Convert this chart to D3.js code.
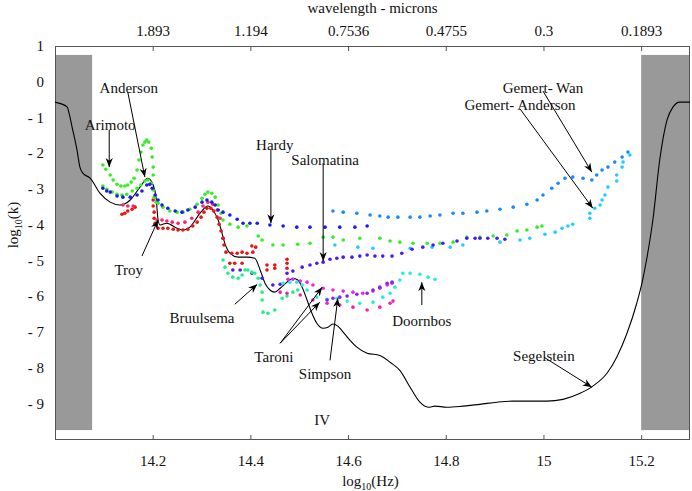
<!DOCTYPE html>
<html><head><meta charset="utf-8">
<script src="https://cdn.jsdelivr.net/npm/d3@7"></script>
<style>
html,body{margin:0;padding:0;background:#fff;}
svg text{font-family:"Liberation Serif","Times New Roman","DejaVu Serif",serif !important;fill:#111;}
</style></head>
<body><svg id="c" width="692" height="491" font-family="Liberation Serif"></svg>
<script>
// ---- axis tick values ----
const xTicks = [14.2, 14.4, 14.6, 14.8, 15, 15.2];
const waveLabels = ["1.893", "1.194", "0.7536", "0.4755", "0.3", "0.1893"];
const yTicks = [1, 0, -1, -2, -3, -4, -5, -6, -7, -8, -9];
const grayBands = [[14.0, 14.076], [15.2, 15.3]];
const grayRange = [-9.75, 0.75];

// ---- Segelstein (black line) ----
const segelstein = [[14.000,-0.57],[14.013,-0.62],[14.025,-0.71],[14.030,-0.95],[14.035,-1.27],[14.045,-1.91],[14.051,-2.39],[14.057,-2.56],[14.072,-2.70],[14.092,-3.12],[14.113,-3.37],[14.133,-3.45],[14.154,-3.31],[14.174,-2.95],[14.190,-2.70],[14.201,-2.89],[14.207,-3.25],[14.211,-3.87],[14.215,-4.01],[14.229,-3.96],[14.250,-4.10],[14.262,-4.15],[14.276,-4.07],[14.297,-3.68],[14.313,-3.48],[14.323,-3.59],[14.334,-3.87],[14.342,-4.24],[14.346,-4.45],[14.358,-4.80],[14.375,-4.91],[14.393,-4.91],[14.409,-4.94],[14.420,-5.27],[14.430,-5.64],[14.440,-5.83],[14.450,-5.89],[14.461,-5.78],[14.475,-5.61],[14.487,-5.50],[14.497,-5.55],[14.506,-5.75],[14.516,-6.11],[14.526,-6.48],[14.536,-6.76],[14.549,-6.90],[14.559,-6.87],[14.569,-6.78],[14.579,-6.84],[14.590,-7.01],[14.604,-7.24],[14.618,-7.43],[14.639,-7.60],[14.665,-7.66],[14.686,-7.85],[14.706,-8.08],[14.727,-8.55],[14.747,-8.97],[14.764,-9.11],[14.778,-9.08],[14.802,-9.11],[14.835,-9.08],[14.870,-9.03],[14.905,-8.97],[14.938,-8.94],[14.972,-8.94],[15.007,-8.94],[15.040,-8.89],[15.075,-8.72],[15.101,-8.52],[15.130,-8.16],[15.150,-7.71],[15.171,-7.04],[15.191,-6.20],[15.203,-5.55],[15.211,-4.99],[15.224,-3.87],[15.238,-2.19],[15.253,-1.07],[15.265,-0.71],[15.279,-0.57],[15.300,-0.57]];

// ---- scatter series ----
const arimoto = [[14.098,-2.33],[14.104,-2.45],[14.113,-2.61],[14.119,-2.75],[14.127,-2.87],[14.135,-2.92],[14.143,-2.92],[14.149,-2.89],[14.156,-2.81],[14.162,-2.70],[14.168,-2.47],[14.172,-2.19],[14.176,-1.97],[14.180,-1.77],[14.184,-1.69],[14.188,-1.63],[14.192,-1.69],[14.197,-1.86],[14.199,-2.11],[14.201,-2.39],[14.201,-2.61]];
const andersonGreen = [[14.098,-2.92],[14.106,-3.01],[14.117,-3.09],[14.127,-3.15],[14.137,-3.17],[14.147,-3.15],[14.158,-3.06],[14.168,-2.98],[14.176,-2.89],[14.184,-2.78],[14.190,-2.75],[14.197,-2.84],[14.201,-3.03],[14.203,-3.23],[14.207,-3.37],[14.211,-3.40],[14.221,-3.51],[14.235,-3.62],[14.250,-3.65],[14.262,-3.65],[14.276,-3.57],[14.291,-3.43],[14.301,-3.26],[14.307,-3.15],[14.313,-3.09],[14.321,-3.12],[14.328,-3.23],[14.334,-3.45],[14.340,-3.68],[14.344,-3.87],[14.358,-3.99],[14.375,-4.07],[14.393,-4.04]];
const greenBand = [[14.416,-4.32],[14.424,-4.43],[14.446,-4.57],[14.467,-4.57],[14.497,-4.55],[14.522,-4.52],[14.549,-4.35],[14.569,-4.35],[14.590,-4.43],[14.624,-4.38],[14.665,-4.38],[14.686,-4.46],[14.706,-4.49],[14.733,-4.52],[14.762,-4.52],[14.788,-4.52],[14.815,-4.49],[14.843,-4.35],[14.870,-4.35],[14.897,-4.32],[14.925,-4.29],[14.946,-4.18],[14.966,-4.15],[14.987,-4.07],[14.997,-4.04]];
const andersonBlue = [[14.098,-2.98],[14.106,-3.06],[14.113,-3.09],[14.127,-3.20],[14.139,-3.23],[14.154,-3.23],[14.168,-3.17],[14.178,-3.06],[14.188,-2.89],[14.194,-2.87],[14.199,-2.98],[14.205,-3.17],[14.211,-3.31],[14.219,-3.45],[14.231,-3.54],[14.246,-3.62],[14.260,-3.65],[14.272,-3.59],[14.287,-3.51],[14.301,-3.37],[14.311,-3.31],[14.321,-3.37],[14.328,-3.45],[14.334,-3.59],[14.344,-3.65],[14.358,-3.73],[14.373,-3.85],[14.385,-3.96],[14.399,-3.96],[14.414,-3.96]];
const hardy = [[14.440,-4.01],[14.467,-4.04],[14.495,-4.07],[14.522,-4.07],[14.553,-4.07],[14.583,-4.07],[14.614,-4.07],[14.639,-4.04]];
const salomatina = [[14.344,-4.38],[14.364,-5.27],[14.379,-5.27],[14.403,-5.36],[14.424,-5.50],[14.446,-5.69],[14.461,-5.67],[14.475,-5.36],[14.487,-5.30],[14.506,-5.19],[14.522,-5.13],[14.536,-5.08],[14.549,-5.05],[14.563,-4.97],[14.577,-4.94],[14.590,-4.91],[14.608,-4.91],[14.624,-4.88],[14.639,-4.85],[14.655,-4.88],[14.671,-4.88],[14.690,-4.88],[14.710,-4.80],[14.731,-4.69],[14.753,-4.63],[14.774,-4.57],[14.794,-4.52],[14.823,-4.46],[14.843,-4.38],[14.860,-4.38],[14.870,-4.38],[14.886,-4.38],[14.905,-4.38],[14.921,-4.41]];
const troy = [[14.137,-3.71],[14.143,-3.68],[14.149,-3.62],[14.158,-3.57],[14.164,-3.51],[14.201,-3.31],[14.201,-3.48],[14.203,-3.65],[14.203,-3.82],[14.205,-3.96],[14.211,-4.10],[14.221,-4.10],[14.231,-4.10],[14.242,-4.13],[14.252,-4.15],[14.262,-4.15],[14.272,-4.13],[14.282,-4.04],[14.291,-3.93],[14.299,-3.79],[14.305,-3.65],[14.311,-3.54],[14.319,-3.54],[14.325,-3.62],[14.332,-3.79],[14.336,-3.99],[14.340,-4.18],[14.344,-4.38],[14.346,-4.57],[14.350,-4.77],[14.362,-4.80],[14.373,-4.80],[14.383,-4.77],[14.393,-4.80],[14.403,-4.60],[14.411,-4.63],[14.405,-4.77],[14.358,-5.08],[14.368,-5.08],[14.383,-5.08],[14.434,-5.13],[14.450,-5.13],[14.434,-5.27],[14.450,-5.22],[14.475,-4.97],[14.475,-5.08],[14.475,-5.22]];
const troyPink = [[14.139,-3.45],[14.149,-3.48],[14.160,-3.48],[14.209,-3.87],[14.219,-3.87],[14.229,-3.90],[14.240,-3.93],[14.252,-3.96],[14.266,-3.93],[14.280,-3.82],[14.293,-3.65],[14.303,-3.48],[14.313,-3.37],[14.323,-3.43],[14.332,-3.59],[14.338,-3.82]];
const bruulsema = [[14.344,-4.99],[14.348,-5.19],[14.354,-5.36],[14.364,-5.47],[14.375,-5.50],[14.383,-5.41],[14.389,-5.27],[14.395,-5.27],[14.403,-5.33],[14.409,-5.36],[14.416,-5.50],[14.420,-5.69],[14.424,-5.89],[14.424,-6.11],[14.426,-6.45],[14.436,-6.48],[14.450,-6.39],[14.465,-6.06],[14.475,-6.00],[14.487,-5.89],[14.497,-5.83]];
const doornbos = [[14.467,-5.64],[14.481,-5.61],[14.495,-5.61],[14.506,-5.69],[14.516,-5.83],[14.536,-6.03],[14.557,-6.09],[14.577,-6.06],[14.598,-6.14],[14.624,-6.20],[14.651,-6.17],[14.671,-6.03],[14.686,-5.92],[14.696,-5.75],[14.706,-5.55],[14.712,-5.36],[14.727,-5.36],[14.747,-5.39],[14.764,-5.47],[14.778,-5.53]];
const taroniUpper = [[14.477,-5.53],[14.487,-5.53],[14.502,-5.58],[14.516,-5.61],[14.528,-5.69],[14.549,-5.78],[14.569,-5.83],[14.590,-5.86],[14.610,-5.89],[14.630,-5.92],[14.651,-5.86],[14.665,-5.78],[14.680,-5.69],[14.690,-5.64]];
const taroniLower = [[14.461,-5.89],[14.475,-5.92],[14.502,-5.97],[14.528,-6.11],[14.557,-6.20],[14.583,-6.25],[14.610,-6.31],[14.639,-6.39],[14.665,-6.31],[14.686,-6.20],[14.692,-6.14]];
const simpson = [[14.557,-6.11],[14.569,-6.06],[14.583,-6.03],[14.598,-6.00],[14.618,-5.95],[14.639,-5.92],[14.651,-5.83],[14.665,-5.75],[14.680,-5.64],[14.690,-5.61]];
const gemertWan = [[14.569,-3.62],[14.590,-3.65],[14.618,-3.68],[14.645,-3.73],[14.665,-3.76],[14.682,-3.79],[14.702,-3.79],[14.727,-3.79],[14.747,-3.79],[14.768,-3.76],[14.788,-3.73],[14.815,-3.68],[14.835,-3.68],[14.864,-3.65],[14.884,-3.62],[14.911,-3.57],[14.938,-3.51],[14.966,-3.43],[14.987,-3.31],[14.999,-3.17],[15.017,-2.98],[15.030,-2.84],[15.044,-2.70],[15.060,-2.67],[15.081,-2.70],[15.099,-2.75],[15.109,-2.61],[15.120,-2.47],[15.132,-2.39],[15.146,-2.25],[15.161,-2.11],[15.173,-1.97]];
const gemertAnderson = [[14.573,-4.57],[14.620,-4.63],[14.651,-4.66],[14.727,-4.66],[14.772,-4.63],[14.809,-4.63],[14.835,-4.57],[14.911,-4.49],[14.952,-4.43],[14.972,-4.38],[15.003,-4.27],[15.024,-4.21],[15.038,-4.10],[15.050,-4.04],[15.060,-3.99],[15.095,-3.82],[15.095,-3.68],[15.105,-3.54],[15.116,-3.45],[15.120,-3.31],[15.126,-3.17],[15.132,-2.95],[15.150,-2.78],[15.150,-2.61],[15.161,-2.39],[15.163,-2.25],[15.177,-2.05]];

// ---- annotations: label, text position, arrows [tail, head] (data units) ----
const annotations = [
  {t:"Anderson", p:[14.151,-0.18], a:[[[14.149,-0.29],[14.184,-2.67]]]},
  {t:"Arimoto", p:[14.113,-1.21], a:[[[14.111,-1.35],[14.111,-2.39]]]},
  {t:"Hardy", p:[14.450,-1.77], a:[[[14.442,-1.91],[14.442,-3.96]]]},
  {t:"Salomatina", p:[14.553,-2.19], a:[[[14.549,-2.28],[14.549,-5.02]]]},
  {t:"Gemert- Wan", p:[14.999,-0.18], a:[[[14.999,-0.26],[15.099,-2.53]]]},
  {t:"Gemert- Anderson", p:[14.952,-0.65], a:[[[14.952,-0.76],[15.101,-3.54]]]},
  {t:"Troy", p:[14.151,-5.25], a:[[[14.178,-4.88],[14.211,-3.87]]]},
  {t:"Bruulsema", p:[14.301,-6.62], a:[[[14.368,-6.23],[14.414,-5.67]]]},
  {t:"Taroni", p:[14.448,-7.71], a:[[[14.461,-7.32],[14.547,-5.75]],[[14.461,-7.32],[14.542,-6.17]]]},
  {t:"Simpson", p:[14.553,-8.16], a:[[[14.563,-7.80],[14.579,-6.06]]]},
  {t:"Doornbos", p:[14.751,-6.68], a:[[[14.751,-6.25],[14.751,-5.61]]]},
  {t:"Segelstein", p:[15.001,-7.66], a:[[[15.001,-7.71],[15.099,-8.55]]]},
  {t:"IV", p:[14.547,-9.45], a:[]}
];

const series = [
  {d:greenBand, c:"#33ee22"},
  {d:gemertAnderson, c:"#22ccff"},
  {d:gemertWan, c:"#1a88ff"},
  {d:hardy, c:"#1a1aee"},
  {d:salomatina, c:"#4a1aee"},
  {d:troy, c:"#ee1111"},
  {d:troyPink, c:"#ff2266"},
  {d:arimoto, c:"#33ee22"},
  {d:andersonGreen, c:"#33ee22"},
  {d:andersonBlue, c:"#1a1aee"},
  {d:bruulsema, c:"#22ee88"},
  {d:doornbos, c:"#22eedd"},
  {d:taroniLower, c:"#ee22bb"},
  {d:taroniUpper, c:"#ee22ee"},
  {d:simpson, c:"#8822ee"}
];

const FONT = "'Liberation Serif','Times New Roman','DejaVu Serif',serif";
const svg = d3.select("#c");
const L = 55, R = 690, T = 46, B = 439;
const x = d3.scaleLinear().domain([14.0, 15.3]).range([L, R]);
const y = d3.scaleLinear().domain([-10, 1]).range([B, T]);

svg.append("defs").append("marker").attr("id","ah").attr("viewBox","0 0 10 10")
  .attr("refX",10).attr("refY",5).attr("markerWidth",9).attr("markerHeight",9)
  .attr("markerUnits","userSpaceOnUse").attr("orient","auto")
  .append("path").attr("d","M0,1 L10,5 L0,9 L3,5 Z").attr("fill","#000");

// gray bands
svg.selectAll("rect.band").data(grayBands).enter().append("rect").attr("class","band")
  .attr("x", d => x(d[0])).attr("width", d => x(d[1]) - x(d[0]))
  .attr("y", y(grayRange[1])).attr("height", y(grayRange[0]) - y(grayRange[1]))
  .attr("fill", "#999");

// frame
svg.append("rect").attr("x",L+0.5).attr("y",T+0.5).attr("width",R-L-1).attr("height",B-T)
  .attr("fill","none").attr("stroke","#555").attr("stroke-width",1);

function styleAxis(g){
  g.attr("font-family", FONT).attr("font-size", 15);
  g.select(".domain").remove();
  g.selectAll("line").attr("stroke","#555");
  g.selectAll("text").style("font-family", FONT).attr("font-size",15).attr("fill","#111");
}

// bottom axis
const gb = svg.append("g").attr("transform",`translate(0,${B})`)
  .call(d3.axisBottom(x).tickValues(xTicks).tickSizeInner(-4).tickSizeOuter(0).tickPadding(16).tickFormat(d => String(d)));
styleAxis(gb);

// top axis
const gt = svg.append("g").attr("transform",`translate(0,${T})`)
  .call(d3.axisTop(x).tickValues(xTicks).tickSizeInner(-5).tickSizeOuter(0).tickPadding(10).tickFormat((d,i) => waveLabels[i]));
styleAxis(gt);

// left axis labels (no tick marks)
const gl = svg.append("g").attr("transform",`translate(${L},0)`)
  .call(d3.axisLeft(y).tickValues(yTicks).tickSize(0).tickPadding(11).tickFormat(d => d < 0 ? "- " + Math.abs(d) : String(d)));
styleAxis(gl);

// axis titles
svg.append("text").attr("x",(L+R)/2).attr("y",13).attr("text-anchor","middle").attr("font-size",15).style("font-family",FONT).text("wavelength - microns");
const xt = svg.append("text").attr("x",(L+R)/2 - 2).attr("y",486).attr("text-anchor","middle").attr("font-size",15).style("font-family",FONT);
xt.append("tspan").text("log");
xt.append("tspan").attr("font-size",10).attr("dy",4).text("10");
xt.append("tspan").attr("dy",-4).text("(Hz)");
const yt = svg.append("text").attr("transform","translate(18,225) rotate(-90)").attr("text-anchor","middle").attr("font-size",15).style("font-family",FONT);
yt.append("tspan").text("log");
yt.append("tspan").attr("font-size",10).attr("dy",4).text("10");
yt.append("tspan").attr("dy",-4).text("(k)");

// Segelstein line
svg.append("path").datum(segelstein)
  .attr("d", d3.line().x(d => x(d[0])).y(d => y(d[1])).curve(d3.curveMonotoneX))
  .attr("fill","none").attr("stroke","#000").attr("stroke-width",1.1);

// scatter series
series.forEach(s => {
  svg.append("g").selectAll("circle").data(s.d).enter().append("circle")
    .attr("cx", d => x(d[0])).attr("cy", d => y(d[1])).attr("r", 1.8).attr("fill", s.c);
});

// annotations
annotations.forEach(a => {
  a.a.forEach(ar => {
    svg.append("line").attr("x1",x(ar[0][0])).attr("y1",y(ar[0][1])).attr("x2",x(ar[1][0])).attr("y2",y(ar[1][1]))
      .attr("stroke","#000").attr("stroke-width",1).attr("marker-end","url(#ah)");
  });
  svg.append("text").attr("x",x(a.p[0])).attr("y",y(a.p[1])).attr("dy","0.35em")
    .attr("text-anchor","middle").attr("font-size",15).style("font-family",FONT).text(a.t);
});
</script></body></html>
